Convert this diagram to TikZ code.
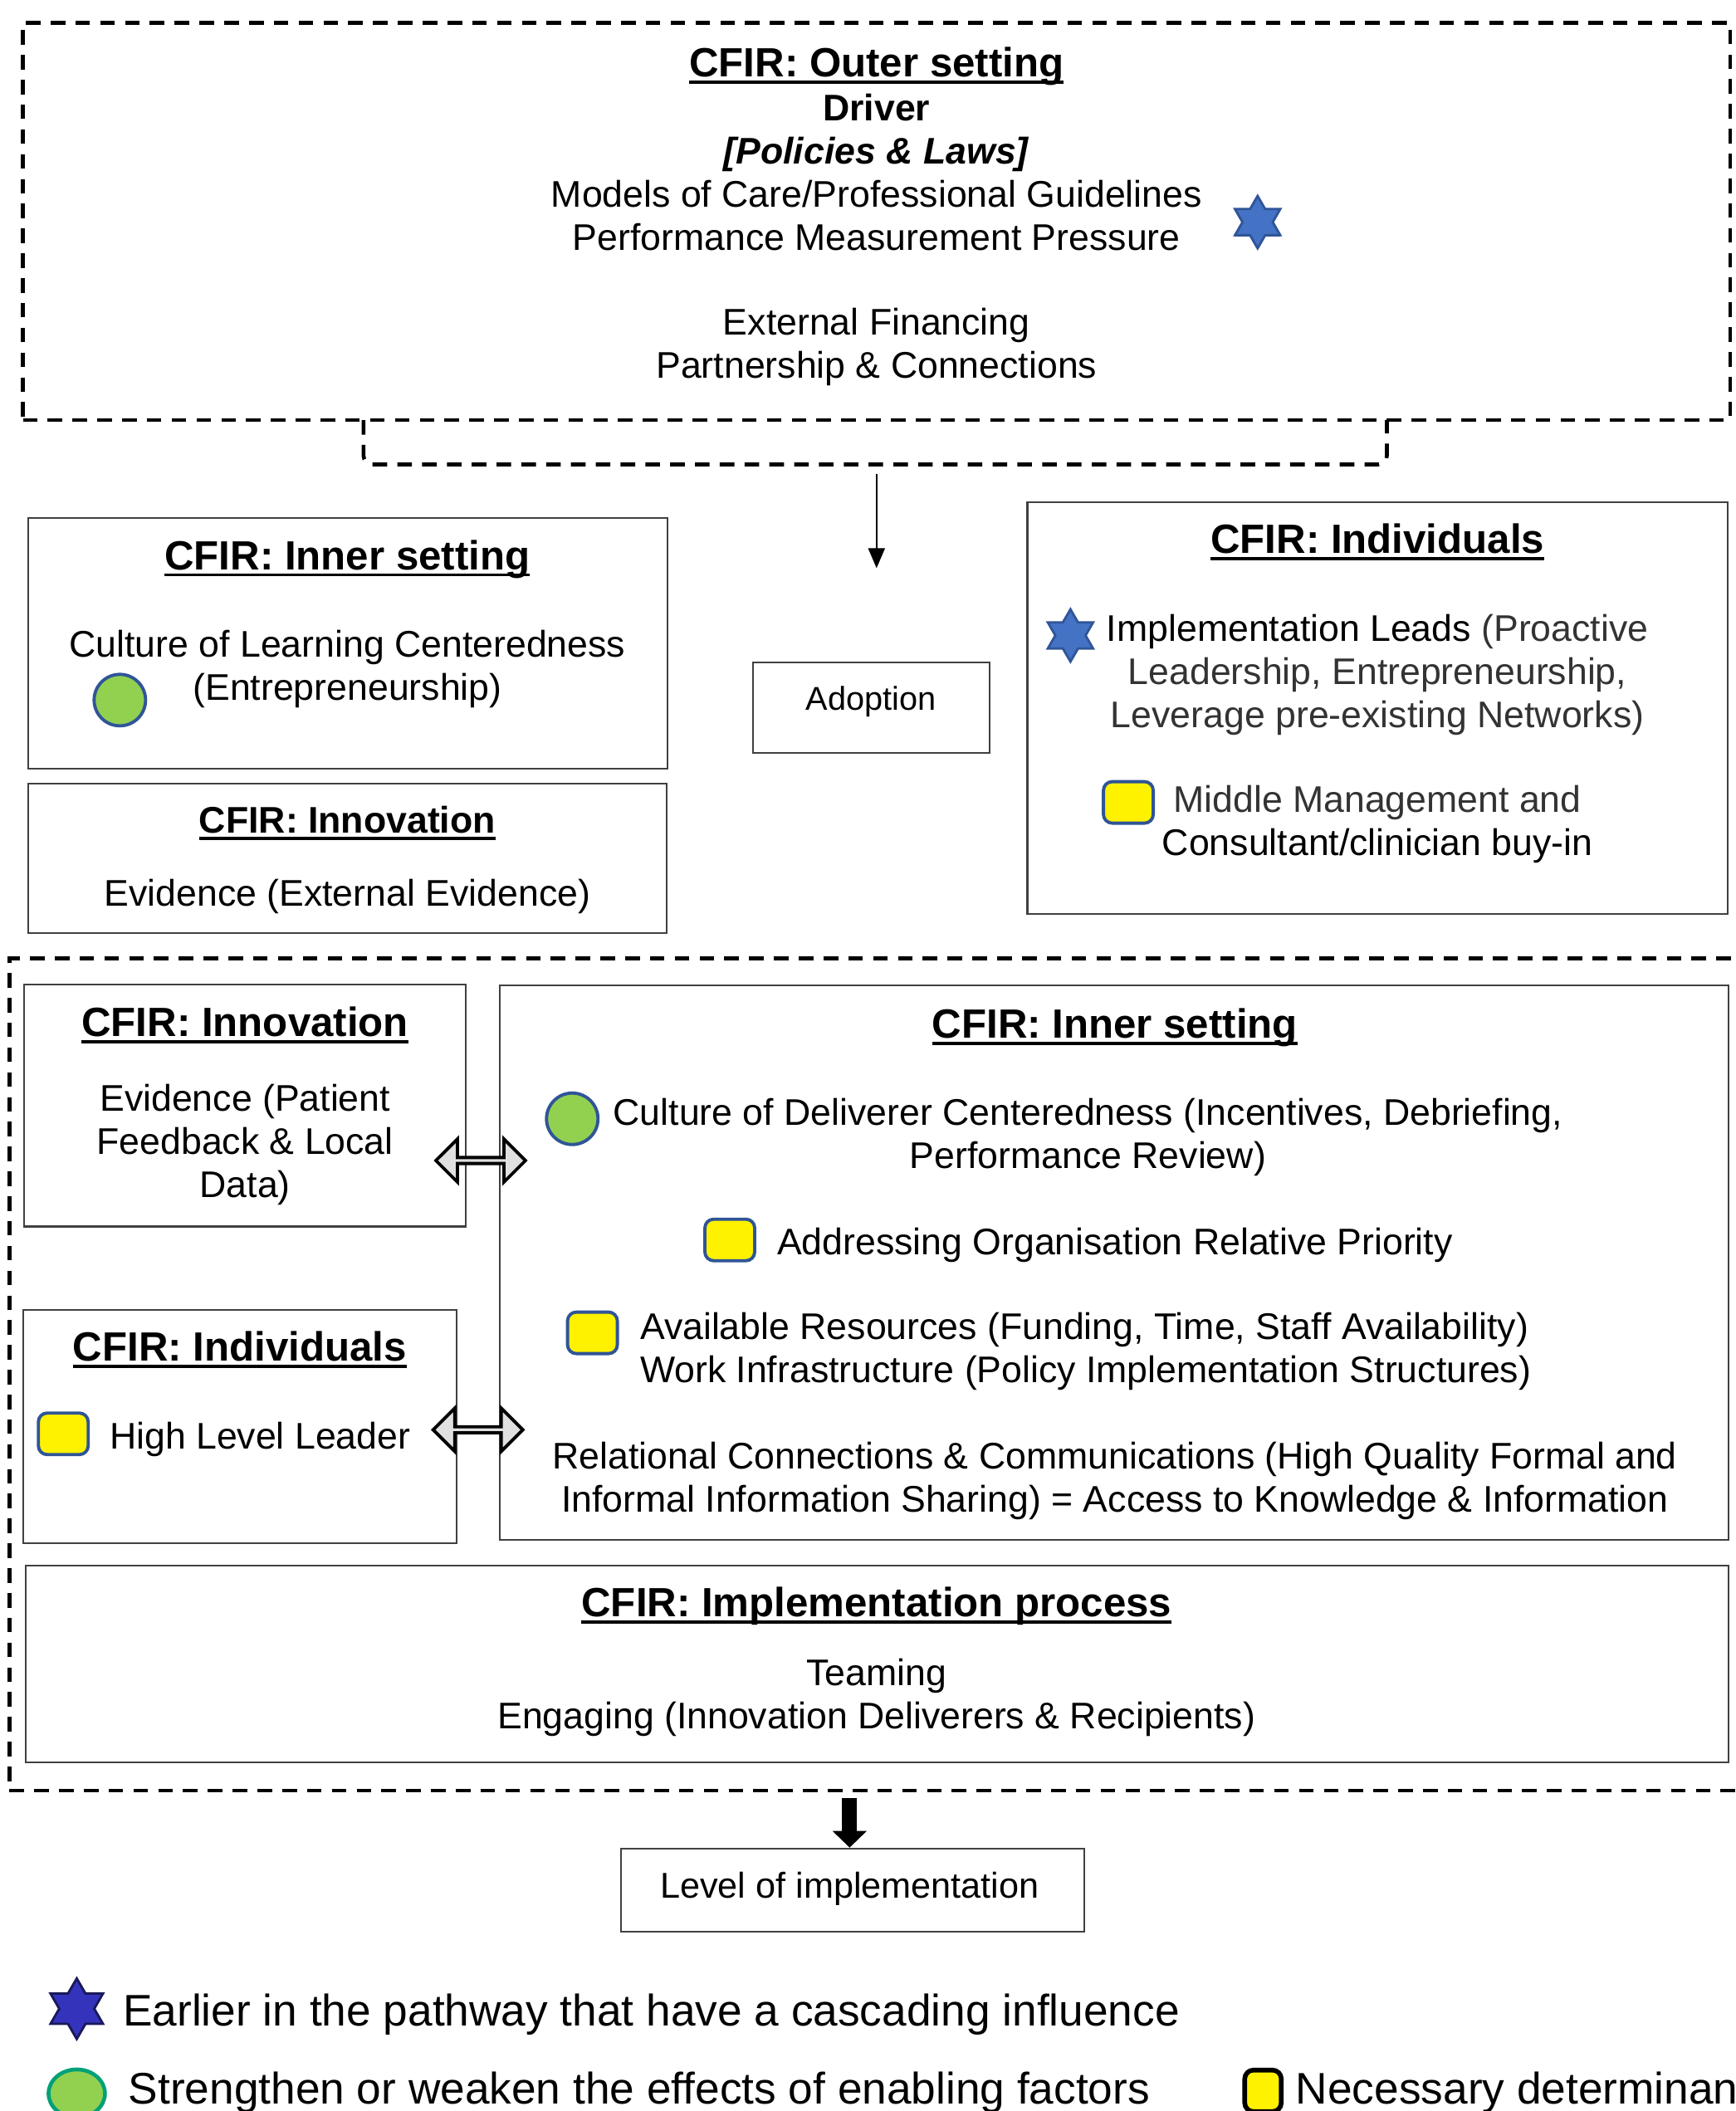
\documentclass[tikz,border=0pt]{standalone}
\usepackage{fontspec}
\setmainfont{Liberation Sans}
\usepackage{tikz}
\usetikzlibrary{shapes,shapes.geometric,shapes.arrows,arrows.meta,fit,calc,positioning}
\definecolor{starblue}{RGB}{68,114,196}
\definecolor{stardark}{RGB}{47,85,151}
\definecolor{legblue}{RGB}{51,51,187}
\definecolor{legdark}{RGB}{25,25,90}
\definecolor{dotgreen}{RGB}{146,208,80}
\definecolor{legteal}{RGB}{0,160,120}
\newcommand{\bodyfont}{\fontsize{12.7}{14.8}\selectfont}
\newcommand{\headfont}{\fontsize{14}{16.5}\selectfont\bfseries}
\newcommand{\legfont}{\fontsize{15.15}{18}\selectfont}
% heading with a Word-like underline
\newcommand{\hd}[1]{\setbox0\hbox{#1}\leavevmode\rlap{\usebox0}\rule[-2.4pt]{\wd0}{1.1pt}}

\begin{document}
\begin{tikzpicture}[x=0.016214cm,y=-0.016214cm,
	box/.style={draw=black!75, line width=0.6pt, inner sep=0pt},
	dashbox/.style={draw=black, line width=1.3pt, dash pattern=on 5pt off 3.5pt, inner sep=0pt},
	ttl/.style={font=\headfont, inner sep=0pt, anchor=base},
	txt/.style={font=\bodyfont, align=center, inner sep=0pt},
	bluestar/.style={star, star points=6, star point ratio=1.73, minimum size=0.63cm, inner sep=0pt, fill=starblue, draw=stardark, line width=0.8pt},
	greendot/.style={circle, minimum size=0.62cm, inner sep=0pt, fill=dotgreen, draw=stardark, line width=1.1pt},
	yellowbox/.style={rectangle, rounded corners=3pt, minimum width=0.6cm, minimum height=0.5cm, inner sep=0pt, fill=yellow, draw=stardark, line width=1.1pt},
	dblarrow/.style={double arrow, double arrow head extend=0.12cm, minimum height=1.08cm, minimum width=0.52cm, inner sep=0pt, fill=black!12, draw=black, line width=1.1pt}
	]
	\useasboundingbox (0,0) rectangle (1289,1568);
	%
	% outer setting
	\node[dashbox, fit={(17,17) (1285,312)}] (outer) {};
	\node[ttl] (outt) at (651,57) {\hd{CFIR: Outer setting}};
	\node[txt] (drv) at (651,128) {\textbf{Driver}\\\textbf{\textit{[Policies \& Laws]}}\\Models of Care/Professional Guidelines\\Performance Measurement Pressure};
	\node[txt] (fin) at (651,258) {External Financing\\Partnership \& Connections};
	\node[bluestar] (st1) at (934,165) {};
	% bracket and arrow
	\draw[line width=1.3pt, dash pattern=on 5pt off 3.5pt, rounded corners=3pt] (270,312) -- (270,345) -- (1030,345) -- (1030,312);
	\coordinate (brk) at (651,352);
	\coordinate (adtip) at (651,422);
	\draw[line width=0.6pt, -{Triangle[length=0.24cm, width=0.2cm]}] (brk) -- (adtip);
	%
	% inner setting (top)
	\node[box, fit={(21,385) (496,571)}] (inn1) {};
	\node[ttl] (inn1t) at (258,423) {\hd{CFIR: Inner setting}};
	\node[txt] (inn1a) at (258,497) {Culture of Learning Centeredness\\(Entrepreneurship)};
	\node[greendot] (gd1) at (89,520) {};
	% innovation (top)
	\node[box, fit={(21,582) (495,693)}] (nov1) {};
	\node[ttl, font=\fontsize{12.7}{15}\selectfont\bfseries] (nov1t) at (258,619) {\hd{CFIR: Innovation}};
	\node[txt] (nov1a) at (258,666) {Evidence (External Evidence)};
	% adoption
	\node[box, fit={(559,492) (735,559)}] (adopt) {};
	\node[txt, font=\fontsize{11.3}{13.5}\selectfont] (adoptt) at (647,521) {Adoption};
	% individuals (top)
	\node[box, fit={(763,373) (1283,679)}] (indv1) {};
	\node[ttl] (indv1t) at (1023,411) {\hd{CFIR: Individuals}};
	\node[bluestar] (st2) at (795,472) {};
	\node[txt] (indv1a) at (1023,501) {Implementation Leads {\color{black!80}(Proactive}\\{\color{black!80}Leadership, Entrepreneurship,}\\{\color{black!80}Leverage pre-existing Networks)}};
	\node[yellowbox] (yb1) at (838,596) {};
	\node[txt] (indv1b) at (1023,612) {{\color{black!80}Middle Management and}\\Consultant/clinician buy-in};
	%
	% lower dashed frame
	\node[dashbox, fit={(7,712) (1295,1330)}] (frame) {};
	% innovation (lower)
	\node[box, fit={(18,731) (346,911)}] (nov2) {};
	\node[ttl] (nov2t) at (182,770) {\hd{CFIR: Innovation}};
	\node[txt] (nov2a) at (182,850) {Evidence (Patient\\Feedback \& Local\\Data)};
	% individuals (lower)
	\node[box, fit={(17,973) (339,1146)}] (indv2) {};
	\node[ttl] (indv2t) at (178,1011) {\hd{CFIR: Individuals}};
	\node[yellowbox] (yb2) at (47,1065) {};
	\node[txt, anchor=west] (indv2a) at (81,1069) {High Level Leader};
	% inner setting (lower)
	\node[box, fit={(371,732) (1284,1144)}] (inn2) {};
	\node[ttl] (inn2t) at (828,771) {\hd{CFIR: Inner setting}};
	\node[greendot] (gd2) at (425,831) {};
	\node[txt] (inn2a) at (808,845) {Culture of Deliverer Centeredness (Incentives, Debriefing,\\Performance Review)};
	\node[yellowbox] (yb3) at (542,921) {};
	\node[txt] (inn2b) at (828,925) {Addressing Organisation Relative Priority};
	\node[yellowbox] (yb4) at (440,990) {};
	\node[txt, anchor=west, align=left] (inn2c) at (475,1004) {Available Resources (Funding, Time, Staff Availability)\\Work Infrastructure (Policy Implementation Structures)};
	\node[txt] (inn2d) at (828,1100) {Relational Connections \& Communications (High Quality Formal and\\Informal Information Sharing) = Access to Knowledge \& Information};
	% links
	\node[dblarrow] (da1) at (357,862) {};
	\node[dblarrow] (da2) at (355,1062) {};
	% implementation process
	\node[box, fit={(19,1163) (1284,1309)}] (impl) {};
	\node[ttl] (implt) at (651,1201) {\hd{CFIR: Implementation process}};
	\node[txt] (impla) at (651,1261) {Teaming\\Engaging (Innovation Deliverers \& Recipients)};
	%
	% level of implementation
	\node[box, fit={(461,1373) (805,1435)}] (level) {};
	\node[txt, font=\fontsize{12.3}{14.5}\selectfont] (levelt) at (631,1403) {Level of implementation};
	\draw[line width=0.18cm, -{Triangle[length=0.2cm, width=0.4cm]}] ($(frame.south -| levelt)+(0,4)$) -- (levelt |- level.north);
	%
	% legend
	\node[bluestar, minimum size=0.73cm, fill=legblue, draw=legdark] (lgst) at (57,1492) {};
	\node[font=\legfont, anchor=west, inner sep=0pt] (lgsta) at (91,1496) {Earlier in the pathway that have a cascading influence};
	\node[ellipse, minimum width=0.68cm, minimum height=0.58cm, inner sep=0pt, fill=dotgreen, draw=legteal, line width=1.3pt] (lggd) at (57,1555) {};
	\node[font=\legfont, anchor=west, inner sep=0pt] (lggda) at (95,1554) {Strengthen or weaken the effects of enabling factors};
	\node[yellowbox, minimum width=0.44cm, minimum height=0.5cm, draw=black, line width=1.6pt] (lgyb) at (938,1553) {};
	\node[font=\legfont, anchor=west, inner sep=0pt] (lgyba) at (962,1554) {Necessary determinants};
\end{tikzpicture}
\end{document}
